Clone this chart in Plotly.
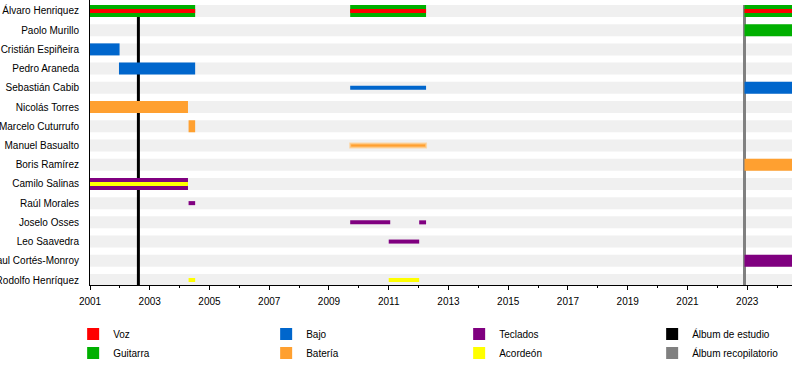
import plotly.graph_objects as go

# ---------------- data ----------------
members = [
    "Álvaro Henriquez", "Paolo Murillo", "Cristián Espiñeira", "Pedro Araneda",
    "Sebastián Cabib", "Nicolás Torres", "Marcelo Cuturrufo", "Manuel Basualto",
    "Boris Ramírez", "Camilo Salinas", "Raúl Morales", "Joselo Osses",
    "Leo Saavedra", "Paul Cortés-Monroy", "Rodolfo Henríquez",
]
timeline_start = 2001.0
timeline_end = 2024.5
tick_years = list(range(2001, 2024, 2))
minor_tick_years = list(range(2002, 2025, 2))

studio_albums = [2002.62]
compilation_albums = [2022.91]

# (member, start, end) — main role (full bar)
guitarra_main = [
    ("Álvaro Henriquez", 2001.0, 2004.52),
    ("Álvaro Henriquez", 2009.71, 2012.25),
    ("Álvaro Henriquez", 2022.91, 2024.5),
    ("Paolo Murillo", 2022.91, 2024.5),
]
bajo_main = [
    ("Cristián Espiñeira", 2001.0, 2001.99),
    ("Pedro Araneda", 2001.97, 2004.52),
    ("Sebastián Cabib", 2022.91, 2024.5),
]
bateria_main = [
    ("Nicolás Torres", 2001.0, 2004.28),
    ("Marcelo Cuturrufo", 2004.3, 2004.52),
    ("Boris Ramírez", 2022.91, 2024.5),
]
teclados_main = [
    ("Camilo Salinas", 2001.0, 2004.28),
    ("Paul Cortés-Monroy", 2022.91, 2024.5),
]
# secondary role (thin bar)
voz_second = [
    ("Álvaro Henriquez", 2001.0, 2004.52),
    ("Álvaro Henriquez", 2009.71, 2012.25),
    ("Álvaro Henriquez", 2022.91, 2024.5),
]
bajo_second = [("Sebastián Cabib", 2009.71, 2012.25)]
bateria_second = [("Manuel Basualto", 2009.71, 2012.25)]
teclados_second = [
    ("Raúl Morales", 2004.3, 2004.52),
    ("Joselo Osses", 2009.71, 2011.05),
    ("Joselo Osses", 2012.02, 2012.25),
    ("Leo Saavedra", 2011.0, 2012.02),
]
acordeon_second = [
    ("Camilo Salinas", 2001.0, 2004.28),
    ("Rodolfo Henríquez", 2004.3, 2004.52),
    ("Rodolfo Henríquez", 2011.0, 2012.02),
]

# ---------------- styles ----------------
colors = {
    "Voz": "#ff0000",
    "Guitarra": "#00b000",
    "Bajo": "#0066cc",
    "Batería": "#ffa030",
    "Teclados": "#800080",
    "Acordeón": "#ffff00",
    "Álbum de estudio": "#000000",
    "Álbum recopilatorio": "#808080",
}
legend_rank = {
    "Voz": 1, "Bajo": 2, "Teclados": 3, "Álbum de estudio": 4,
    "Guitarra": 5, "Batería": 6, "Acordeón": 7, "Álbum recopilatorio": 8,
}
FULL_W = 0.625
THIN_W = 0.21
STRIPE_COLOR = "#f0f0f0"
Y_TOP = -0.57
Y_BOTTOM = len(members) - 1 + 0.26
LINE_W = 0.1

row = {m: i for i, m in enumerate(members)}

fig = go.Figure()

# background stripes
fig.add_trace(go.Bar(
    orientation="h",
    y=list(range(len(members))),
    base=[timeline_start] * len(members),
    x=[timeline_end - timeline_start] * len(members),
    width=FULL_W,
    marker=dict(color=STRIPE_COLOR, line=dict(width=0)),
    showlegend=False, hoverinfo="skip",
))

# album release lines
for name, dates in [("Álbum de estudio", studio_albums),
                    ("Álbum recopilatorio", compilation_albums)]:
    fig.add_trace(go.Bar(
        orientation="v",
        x=dates,
        base=[-FULL_W / 2] * len(dates),
        y=[Y_BOTTOM + FULL_W / 2] * len(dates),
        width=LINE_W,
        marker=dict(color=colors[name], line=dict(width=0)),
        name=name, legendrank=legend_rank[name], hoverinfo="skip",
    ))


def add_role(name, periods, width, show, edge=None):
    fig.add_trace(go.Bar(
        orientation="h",
        y=[row[m] for m, s, e in periods],
        base=[s for m, s, e in periods],
        x=[e - s for m, s, e in periods],
        width=width,
        marker=dict(color=colors[name],
                    line=dict(width=2 if edge else 0, color=edge or colors[name])),
        name=name, legendgroup=name, showlegend=show,
        legendrank=legend_rank[name], hoverinfo="skip",
    ))


add_role("Guitarra", guitarra_main, FULL_W, True)
add_role("Voz", voz_second, THIN_W, True)
add_role("Bajo", bajo_main, FULL_W, True)
add_role("Bajo", bajo_second, THIN_W, False)
add_role("Batería", bateria_main, FULL_W, True)
add_role("Batería", bateria_second, THIN_W, False, edge="rgba(255,205,140,0.7)")
add_role("Teclados", teclados_main, FULL_W, True)
add_role("Teclados", teclados_second, THIN_W, False)
add_role("Acordeón", acordeon_second, THIN_W, True)

fig.update_layout(
    width=800, height=385,
    margin=dict(l=90, r=8, t=0, b=100, autoexpand=False),
    barmode="overlay",
    plot_bgcolor="white", paper_bgcolor="white",
    font=dict(family="Liberation Sans, Arial, sans-serif", size=10, color="black"),
    legend=dict(
        orientation="h", x=-0.024, y=-0.121, xanchor="left", yanchor="top",
        entrywidth=148, entrywidthmode="pixels", traceorder="normal",
        font=dict(size=10), bgcolor="rgba(0,0,0,0)",
    ),
)
fig.update_xaxes(
    range=[timeline_start, timeline_end],
    tickmode="array", tickvals=tick_years, ticktext=[str(y) for y in tick_years],
    ticks="outside", ticklen=4, tickcolor="black", tickwidth=1,
    minor=dict(ticks="outside", ticklen=2, tickcolor="black",
               tickmode="array", tickvals=minor_tick_years),
    showline=True, linecolor="black", linewidth=1,
    showgrid=False, zeroline=False, automargin=False, ticklabelstandoff=3,
)
fig.update_yaxes(
    range=[Y_BOTTOM, Y_TOP],
    tickmode="array", tickvals=list(range(len(members))), ticktext=members,
    ticks="", showline=True, linecolor="black", linewidth=1,
    showgrid=False, zeroline=False, automargin=False, ticklabelstandoff=8,
)

fig.write_html("out.html", config={"displayModeBar": False},
               post_script="document.body.style.margin='0px';")
